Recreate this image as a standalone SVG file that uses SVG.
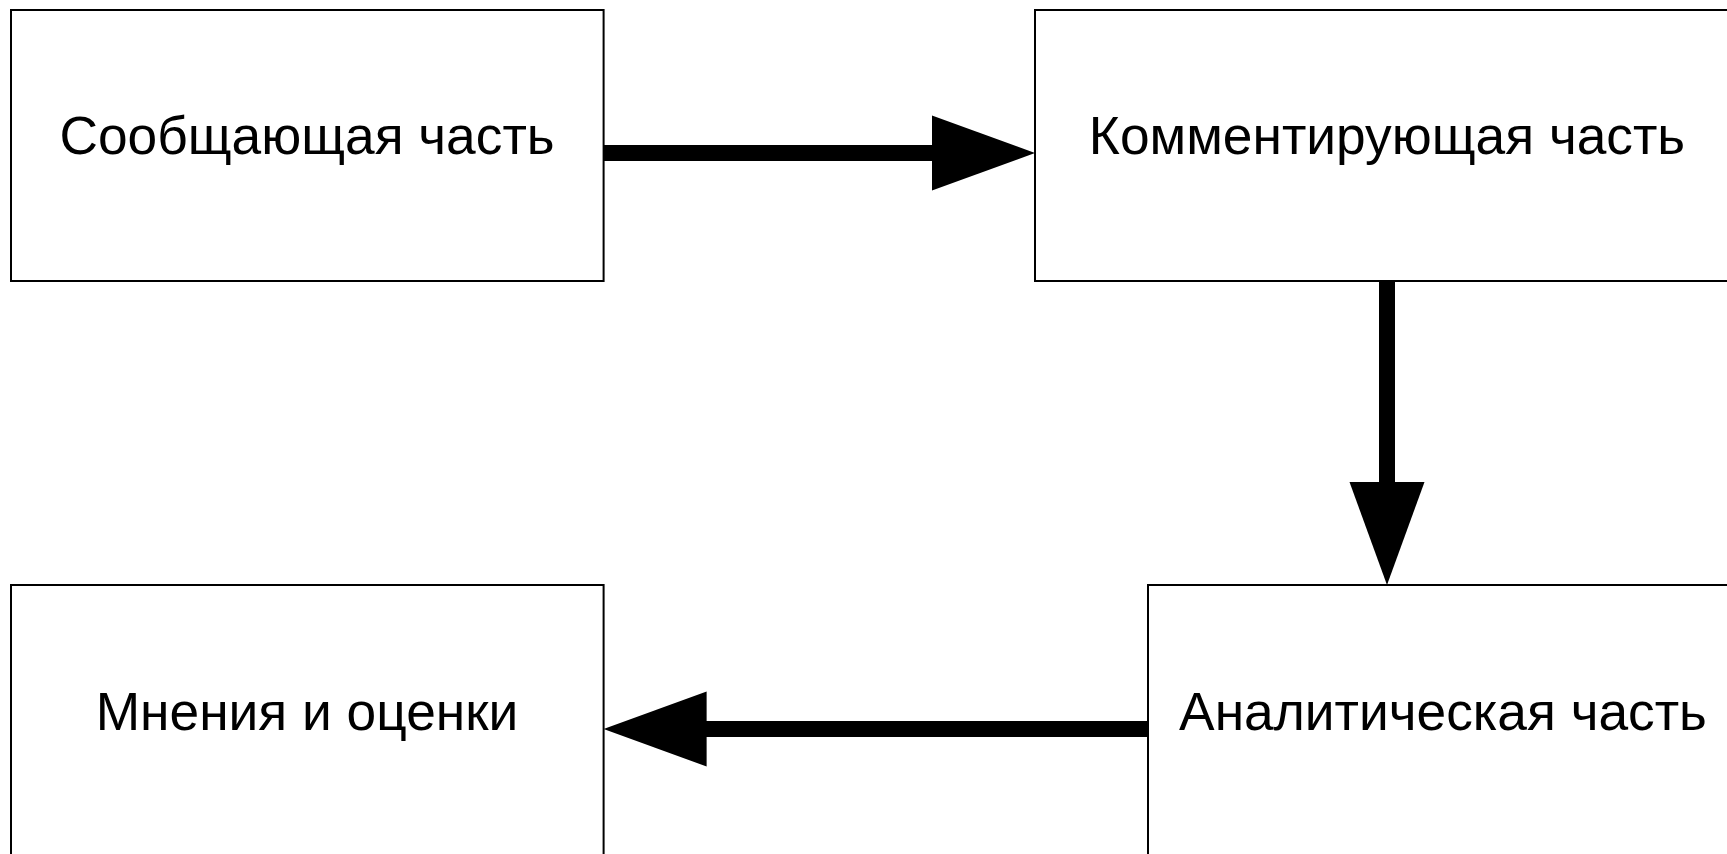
<svg xmlns="http://www.w3.org/2000/svg" width="1727" height="854" viewBox="0 0 1727 854">
  <style>
    .box { fill: #ffffff; stroke: #000000; stroke-width: 2; }
    .lbl { font-family: "Liberation Sans", Arial, sans-serif; font-size: 53.3px; fill: #000000; text-anchor: middle; }
    .edge { fill: none; stroke: #000000; stroke-width: 16; }
  </style>
  <defs>
    <marker id="arrow" viewBox="0 0 103 75" refX="1" refY="37.5" markerWidth="103" markerHeight="75" markerUnits="userSpaceOnUse" orient="auto" overflow="visible">
      <path d="M0,0 L103,37.5 L0,75 Z" fill="#000000"/>
    </marker>
  </defs>
  <rect x="0" y="0" width="1727" height="854" fill="#ffffff"/>
  <g id="node-soobshchayushchaya">
    <rect class="box" x="11" y="10" width="592.6" height="271"/>
    <text class="lbl" x="307" y="154">Сообщающая часть</text>
  </g>
  <g id="node-kommentiruyushchaya">
    <rect class="box" x="1035" y="10" width="704" height="271"/>
    <text class="lbl" x="1387" y="154">Комментирующая часть</text>
  </g>
  <g id="node-analiticheskaya">
    <rect class="box" x="1148" y="585" width="591" height="271"/>
    <text class="lbl" x="1443" y="730">Аналитическая часть</text>
  </g>
  <g id="node-mneniya">
    <rect class="box" x="11" y="585" width="592.6" height="271"/>
    <text class="lbl" x="307" y="730">Мнения и оценки</text>
  </g>
  <g id="connectors">
    <path class="edge" d="M603.6,153 L933,153" marker-end="url(#arrow)"/>
    <path class="edge" d="M1387,281 L1387,483" marker-end="url(#arrow)"/>
    <path class="edge" d="M1148,729 L705.6,729" marker-end="url(#arrow)"/>
  </g>
</svg>
